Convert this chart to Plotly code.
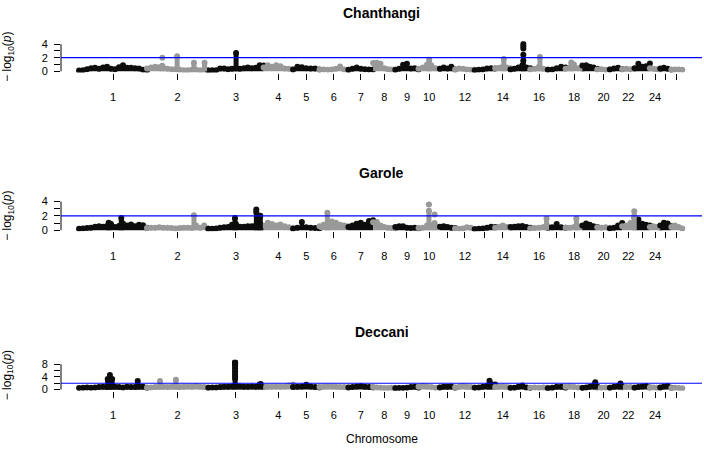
import numpy as np
import plotly.graph_objects as go

# ---------------- data ----------------
CHROM_LEN = [275, 248, 224, 119, 107, 117, 100, 90, 94, 86, 62, 79, 83,
             62, 80, 71, 72, 68, 60, 51, 50, 50, 62, 42, 45, 44]
TICK_LABELS = ["1", "2", "3", "4", "5", "6", "7", "8", "9", "10", "", "12", "",
               "14", "", "16", "", "18", "", "20", "", "22", "", "24", "", ""]
THRESHOLD = 2.0

# envelope of -log10(p) along each chromosome (evenly spaced along the chromosome)
CHAN_ENV = [
    [0.1, 0.15, 0.3, 0.45, 0.5, 0.35, 0.55, 0.65, 0.35, 0.3, 0.6, 0.9, 0.5, 0.5, 0.45, 0.4, 0.2, 0.15],
    [0.4, 0.55, 0.65, 0.6, 0.5, 0.35, 0.3, 0.3, 0.2, 0.15, 0.15, 0.2, 0.2, 0.15, 0.2, 0.15],
    [0.1, 0.15, 0.15, 0.4, 0.4, 0.3, 0.35, 0.45, 0.35, 0.45, 0.55, 0.45, 0.5, 0.9, 0.85],
    [0.55, 0.9, 0.65, 0.9, 0.75, 0.4, 0.35, 0.25],
    [0.25, 0.65, 0.6, 0.45, 0.4, 0.4, 0.25],
    [0.2, 0.25, 0.2, 0.25, 0.35, 0.7, 0.25, 0.15],
    [0.2, 0.35, 0.55, 0.35, 0.3, 0.25, 0.25],
    [1.2, 1.25, 1.1, 0.45, 0.3, 0.25, 0.2],
    [0.2, 0.35, 0.95, 1.1, 0.4, 0.45, 0.25],
    [0.35, 0.55, 1.0, 0.9, 0.45, 0.35],
    [0.35, 0.55, 0.4, 0.65, 0.25],
    [0.25, 0.4, 0.35, 0.25, 0.2, 0.2],
    [0.15, 0.2, 0.25, 0.4, 0.45, 0.4],
    [0.45, 0.5, 0.65, 0.55, 0.45],
    [0.25, 0.35, 0.55, 0.9, 0.55, 0.45],
    [0.25, 0.35, 0.65, 0.35, 0.25],
    [0.2, 0.25, 0.45, 0.65, 0.55],
    [0.35, 0.55, 1.0, 0.45, 0.35],
    [0.85, 0.9, 0.65, 0.55, 0.35],
    [0.25, 0.3, 0.2, 0.25],
    [0.25, 0.4, 0.5, 0.3],
    [0.3, 0.35, 0.3, 0.35],
    [0.45, 1.1, 0.65, 0.75, 1.15],
    [0.45, 0.35, 0.3, 0.25],
    [0.4, 0.5, 0.35, 0.2],
    [0.2, 0.25, 0.25, 0.2],
]
# narrow columns of SNPs: (chromosome, position Mb, -log10 p)
CHAN_COLS = [(2, 62, 0.8), (2, 122, 2.2), (2, 190, 1.25), (2, 233, 1.25),
             (3, 112.5, 2.7), (10, 43, 1.7), (14, 35, 1.8), (15, 52, 1.6),
             (16, 39, 2.1), (18, 23, 1.3)]
# isolated SNPs
CHAN_DOTS = [(2, 62, 2.0), (15, 52, 2.45), (15, 52, 3.35), (15, 52, 3.7), (15, 52, 4.05)]

GAR_ENV = [
    [0.2, 0.25, 0.3, 0.35, 0.5, 0.55, 0.5, 0.6, 0.85, 0.45, 0.6, 0.95, 0.65, 0.8, 0.55, 0.75, 0.7, 0.35],
    [0.3, 0.35, 0.35, 0.4, 0.35, 0.35, 0.3, 0.25, 0.3, 0.35, 0.35, 0.3, 0.65, 0.35, 0.65, 0.25],
    [0.2, 0.2, 0.25, 0.35, 0.4, 0.45, 0.75, 0.85, 0.5, 0.5, 0.55, 0.55, 0.65, 0.95, 0.55],
    [0.65, 1.05, 0.85, 0.65, 0.8, 0.55, 0.4, 0.35],
    [0.2, 0.35, 1.15, 0.4, 0.35, 0.3, 0.25],
    [0.55, 0.75, 1.1, 1.2, 1.05, 0.75, 0.65, 0.55],
    [0.45, 0.65, 0.9, 1.05, 0.75, 1.3, 1.4],
    [1.1, 1.15, 0.65, 0.45, 0.35, 0.3, 0.25],
    [0.45, 0.55, 0.55, 0.35, 0.3, 0.35, 0.25],
    [0.3, 0.35, 0.65, 0.65, 0.6, 0.45],
    [0.5, 0.55, 0.45, 0.35, 0.3],
    [0.25, 0.2, 0.25, 0.4, 0.35, 0.2],
    [0.15, 0.2, 0.25, 0.35, 0.5, 0.45],
    [0.35, 0.5, 0.65, 0.45, 0.35],
    [0.45, 0.5, 0.55, 0.6, 0.45, 0.35],
    [0.25, 0.3, 0.35, 0.45, 0.55],
    [0.35, 0.4, 0.85, 0.4, 0.35],
    [0.35, 0.35, 0.45, 0.55, 0.45],
    [0.65, 0.95, 0.75, 0.55, 0.45],
    [0.4, 0.35, 0.4, 0.35],
    [0.25, 0.35, 0.65, 1.0],
    [0.55, 0.65, 1.0, 1.2],
    [1.7, 1.5, 0.9, 0.75, 0.65],
    [0.45, 0.55, 0.45, 0.35],
    [0.65, 1.05, 0.95, 0.55],
    [0.45, 0.65, 0.45, 0.25],
]
GAR_COLS = [(1, 120, 1.05), (1, 171, 1.7), (2, 190, 2.1), (3, 108, 1.7),
            (3, 194.5, 2.9), (3, 210.6, 2.0), (6, 32, 2.45), (10, 42, 2.7),
            (10, 65, 1.0), (16, 66, 1.65), (18, 43.7, 1.65), (22, 48.8, 2.0)]
GAR_DOTS = [(10, 42, 3.6), (10, 65, 2.2), (22, 48.8, 2.65), (3, 194.5, 2.5)]

DEC_ENV = [
    [0.5, 0.6, 0.7, 0.6, 0.7, 0.8, 0.9, 0.8, 0.9, 0.9, 0.8, 0.7, 0.9, 0.8, 0.8, 1.0, 0.9, 0.6],
    [0.6, 0.7, 0.8, 0.9, 0.9, 0.8, 0.9, 1.0, 0.8, 0.9, 1.0, 0.9, 1.1, 0.9, 0.8, 0.7],
    [0.6, 0.7, 0.7, 0.8, 0.9, 0.9, 1.0, 1.4, 1.0, 0.9, 0.9, 1.0, 0.9, 1.6, 0.8],
    [0.8, 0.9, 0.9, 1.0, 0.9, 1.0, 1.3, 1.5],
    [0.8, 0.9, 1.0, 1.5, 1.0, 0.8, 0.7],
    [0.8, 0.9, 1.0, 1.0, 0.9, 0.8, 0.8, 0.7],
    [0.7, 0.8, 1.0, 1.1, 0.9, 0.8, 0.7],
    [0.8, 0.7, 0.6, 0.5, 0.5, 0.6, 0.6],
    [0.4, 0.5, 0.5, 0.6, 0.8, 0.9, 0.6],
    [0.9, 1.1, 1.0, 0.8, 0.6, 0.7],
    [0.7, 0.9, 0.9, 1.0, 0.6],
    [0.7, 0.9, 1.1, 0.9, 0.8, 0.7],
    [0.6, 0.7, 0.9, 1.2, 1.8, 1.6],
    [0.8, 0.9, 1.0, 0.8, 0.7],
    [0.5, 0.6, 0.9, 1.3, 0.7, 0.5],
    [0.6, 0.7, 0.6, 0.7, 0.6],
    [0.4, 0.6, 0.9, 0.9, 0.6],
    [0.9, 1.0, 0.8, 0.7, 0.6],
    [0.5, 0.7, 0.9, 1.3, 1.0],
    [0.6, 0.6, 0.7, 0.6],
    [0.6, 0.9, 1.1, 1.0],
    [0.7, 0.8, 0.8, 0.7],
    [0.6, 0.8, 1.0, 1.1, 0.7],
    [0.7, 0.7, 0.6, 0.6],
    [0.7, 1.0, 1.1, 0.6],
    [0.5, 0.6, 0.5, 0.4],
]
DEC_COLS = [(1, 116, 3.3), (1, 134, 3.3), (1, 237.5, 2.7), (2, 52.6, 2.7),
            (2, 117, 3.1), (3, 108.5, 8.5), (3, 212, 1.8), (13, 60, 1.8),
            (19, 52, 1.4), (21, 43, 1.9)]
DEC_DOTS = [(1, 125, 4.6), (3, 108.5, 8.7), (3, 108.5, 8.3), (3, 108.5, 7.9),
            (3, 108.5, 7.4), (3, 108.5, 6.6), (3, 108.5, 5.8), (3, 108.5, 5.0),
            (3, 108.5, 4.2), (3, 108.5, 3.4), (13, 60, 2.75), (19, 52, 2.3)]

PANELS = [
    ("Chanthangi", CHAN_ENV, CHAN_COLS, CHAN_DOTS, [0, 1, 2, 3, 4], ["0", "", "2", "", "4"]),
    ("Garole", GAR_ENV, GAR_COLS, GAR_DOTS, [0, 1, 2, 3, 4], ["0", "", "2", "", "4"]),
    ("Deccani", DEC_ENV, DEC_COLS, DEC_DOTS, [0, 2, 4, 6, 8], ["0", "", "4", "", "8"]),
]

# ---------------- styling / layout (pixels) ----------------
W, H = 704, 451
BLACK = "#0d0d0d"
GREY = "#999999"
FONT = "Liberation Sans, Arial, Helvetica, sans-serif"
DOT = 6
COL_PX = 5              # px, visual width of a dense SNP column
X_LEFT, X_RIGHT = 61, 702
PLOT_BOX = [(37.0, 69.1), (199.8, 231.5), (362.9, 394.5)]   # top, bottom px
Y_RANGES = [[-0.2, 4.45], [-0.16, 4.16], [-0.36, 9.36]]
TITLE_Y = [8.5, 171.5, 334]
X_RANGE = [-73, 2521]

starts = np.concatenate([[0], np.cumsum(CHROM_LEN)[:-1]])
mids = starts + np.array(CHROM_LEN) / 2.0


def chrom_color(ch):
    return BLACK if (ch - 1) % 2 == 0 else GREY


fig = go.Figure()
shapes = []
annotations = []

for p, (name, env, cols, dots, yt, ytt) in enumerate(PANELS):
    sfx = "" if p == 0 else str(p + 1)
    xa, ya = "x" + sfx, "y" + sfx
    for c in range(26):
        vals = env[c]
        x = starts[c] + np.linspace(0, CHROM_LEN[c], len(vals))
        color = chrom_color(c + 1)
        fig.add_trace(go.Scatter(
            x=x, y=vals, mode="lines+markers",
            line=dict(width=0, shape="hvh", color=color),
            fill="tozeroy", fillcolor=color,
            marker=dict(size=DOT, color=color, line=dict(width=0)),
            xaxis=xa, yaxis=ya, hoverinfo="skip", showlegend=False))
    # dense columns of SNPs (vertical strokes from 0 to value)
    for colr in (BLACK, GREY):
        sx, sy = [], []
        for (ch, mb, val) in cols:
            if chrom_color(ch) == colr:
                sx += [starts[ch - 1] + mb, starts[ch - 1] + mb, None]
                sy += [0, val, None]
        if sx:
            fig.add_trace(go.Scatter(
                x=sx, y=sy, mode="lines", line=dict(width=COL_PX, color=colr),
                xaxis=xa, yaxis=ya, hoverinfo="skip", showlegend=False))
    # column tops and isolated SNPs
    dx = [starts[ch - 1] + mb for (ch, mb, val) in cols + dots]
    dy = [val for (ch, mb, val) in cols + dots]
    dc = [chrom_color(ch) for (ch, mb, val) in cols + dots]
    fig.add_trace(go.Scatter(
        x=dx, y=dy, mode="markers",
        marker=dict(size=DOT, color=dc, line=dict(width=0)),
        xaxis=xa, yaxis=ya, hoverinfo="skip", showlegend=False))

    top, bot = PLOT_BOX[p]
    fig.update_layout(**{
        "xaxis" + sfx: dict(
            domain=[X_LEFT / W, X_RIGHT / W], anchor=ya, range=X_RANGE,
            tickvals=list(mids), ticktext=TICK_LABELS, ticks="outside",
            ticklen=6, tickwidth=1, tickcolor="black", showline=False,
            showgrid=False, zeroline=False, ticklabelstandoff=8,
            tickfont=dict(family=FONT, size=11, color="black")),
        "yaxis" + sfx: dict(
            domain=[1 - bot / H, 1 - top / H], anchor=xa, range=Y_RANGES[p],
            tickvals=yt, ticktext=ytt, ticks="outside", ticklen=6,
            tickwidth=1, tickcolor="black", showline=False, showgrid=False,
            zeroline=False, ticklabelstandoff=4,
            tickfont=dict(family=FONT, size=11, color="black")),
    })
    # y axis line spanning the tick range
    shapes.append(dict(type="line", xref=xa + " domain", yref=ya,
                       x0=0, x1=0, y0=yt[0], y1=yt[-1],
                       line=dict(color="black", width=1)))
    # significance threshold
    shapes.append(dict(type="line", xref=xa + " domain", yref=ya,
                       x0=0, x1=1, y0=THRESHOLD, y1=THRESHOLD,
                       line=dict(color="#0000ff", width=1.2)))
    annotations.append(dict(text="<b>%s</b>" % name, xref="paper", yref="paper",
                            x=(X_LEFT + X_RIGHT) / 2 / W, y=1 - TITLE_Y[p] / H,
                            xanchor="center", yanchor="middle", showarrow=False,
                            font=dict(family=FONT, size=14, color="black")))
    annotations.append(dict(text="\u2212 log<sub>10</sub>(<i>p</i>)", xref="paper",
                            yref="paper", x=8 / W, y=1 - (top + bot) / 2 / H,
                            xanchor="center", yanchor="middle", textangle=-90,
                            showarrow=False,
                            font=dict(family=FONT, size=12, color="black")))

annotations.append(dict(text="Chromosome", xref="paper", yref="paper",
                        x=(X_LEFT + X_RIGHT) / 2 / W, y=1 - 443.5 / H,
                        xanchor="center", yanchor="middle", showarrow=False,
                        font=dict(family=FONT, size=12, color="black")))

fig.update_layout(width=W, height=H, autosize=False,
                  margin=dict(l=0, r=0, t=0, b=0),
                  paper_bgcolor="white", plot_bgcolor="white",
                  shapes=shapes, annotations=annotations, showlegend=False)

fig.write_html("out.html")
